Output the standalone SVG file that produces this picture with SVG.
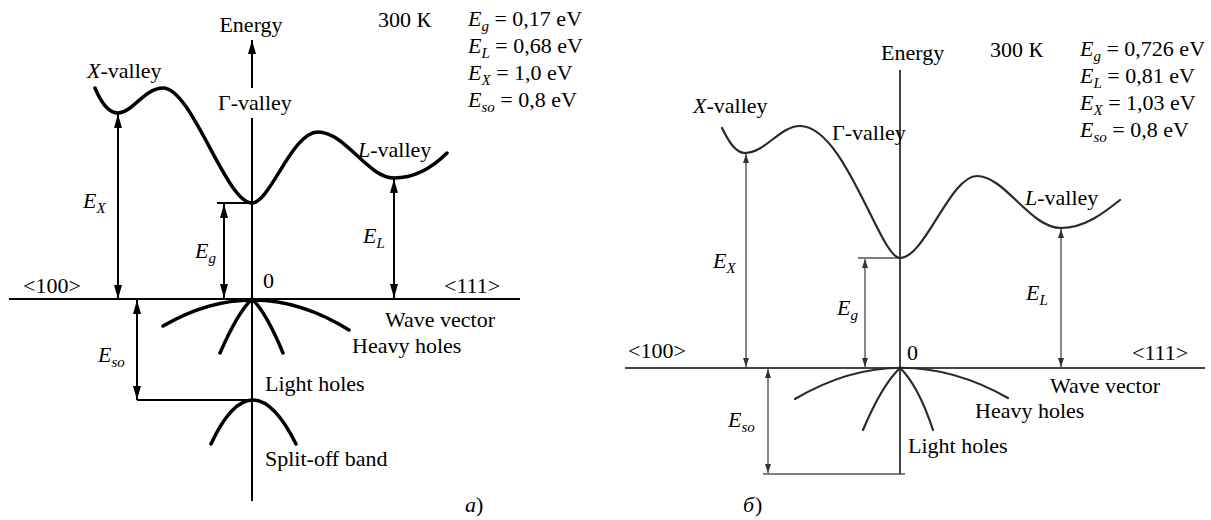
<svg xmlns="http://www.w3.org/2000/svg" width="1211" height="520" viewBox="0 0 1211 520">
<style>
text{font-family:"Liberation Serif","Times New Roman",serif;font-size:22px;fill:#000}
.i{font-style:italic}
.s{font-size:15px;font-style:italic}
.ax{stroke:#000;stroke-width:2;fill:none}
.cv{stroke:#000;stroke-width:3.5;fill:none;stroke-linecap:round}
.ar{stroke:#000;stroke-width:2;fill:none}
.axb{stroke:#444;stroke-width:2;fill:none}
.cvb{stroke:#2a2a2a;stroke-width:2.2;fill:none;stroke-linecap:round}
.arb{stroke:#555;stroke-width:1.4;fill:none}
</style>
<defs>
<marker id="ah" viewBox="0 0 14 8" refX="14" refY="4" markerWidth="14" markerHeight="8" markerUnits="userSpaceOnUse" orient="auto-start-reverse"><path d="M0,0 L14,4 L0,8 z" fill="#000"/></marker>
<marker id="ahb" viewBox="0 0 9 6" refX="9" refY="3" markerWidth="9" markerHeight="6" markerUnits="userSpaceOnUse" orient="auto-start-reverse"><path d="M0,0 L9,3 L0,6 z" fill="#333"/></marker>
</defs>
<rect width="1211" height="520" fill="#fff"/>

<!-- Panel a -->
<g id="panel-a">
<g id="a-connectors">
<line class="ax" x1="252" y1="88" x2="252" y2="40" marker-end="url(#ah)"/>
<line class="ax" x1="252" y1="118" x2="252" y2="501"/>
<line class="ax" x1="9" y1="299" x2="520" y2="299"/>
<line class="ar" x1="217" y1="203" x2="252" y2="203"/>
<line class="ar" x1="137" y1="400" x2="252" y2="400"/>
<line class="ar" x1="118" y1="299" x2="118" y2="114" marker-start="url(#ah)" marker-end="url(#ah)"/>
<line class="ar" x1="224" y1="298" x2="224" y2="204" marker-start="url(#ah)" marker-end="url(#ah)"/>
<line class="ar" x1="394" y1="298" x2="394" y2="179" marker-start="url(#ah)" marker-end="url(#ah)"/>
<line class="ar" x1="137" y1="300" x2="137" y2="400" marker-start="url(#ah)" marker-end="url(#ah)"/>
</g>
<g id="a-bands">
<path class="cv" d="M95,88 C100,100 108,113 118,113 C132,113 145,88 163,88 C192,88 226,203 252,203 C270,203 292,132 318,132 C345,132 368,178 394,178 C415,178 432,168 447,153"/>
<path class="cv" d="M163,326 Q256,272 349,330"/>
<path class="cv" d="M220,353 Q238,312 252,299 Q266,312 283,353"/>
<path class="cv" d="M211,444 Q252,356 296,444"/>
</g>
<g id="a-labels">
<text x="251" y="32" text-anchor="middle">Energy</text>
<text x="87" y="78"><tspan class="i">X</tspan>-valley</text>
<text x="218" y="110">Γ-valley</text>
<text x="358" y="157"><tspan class="i">L</tspan>-valley</text>
<text x="378" y="27">300 К</text>
<text x="468" y="26"><tspan class="i">E</tspan><tspan class="s" dy="5">g</tspan><tspan dy="-5"> = 0,17 eV</tspan></text>
<text x="468" y="53"><tspan class="i">E</tspan><tspan class="s" dy="5">L</tspan><tspan dy="-5"> = 0,68 eV</tspan></text>
<text x="468" y="80"><tspan class="i">E</tspan><tspan class="s" dy="5">X</tspan><tspan dy="-5"> = 1,0 eV</tspan></text>
<text x="468" y="107"><tspan class="i">E</tspan><tspan class="s" dy="5">so</tspan><tspan dy="-5"> = 0,8 eV</tspan></text>
<text x="83" y="208"><tspan class="i">E</tspan><tspan class="s" dy="5">X</tspan></text>
<text x="195" y="258"><tspan class="i">E</tspan><tspan class="s" dy="5">g</tspan></text>
<text x="363" y="243"><tspan class="i">E</tspan><tspan class="s" dy="5">L</tspan></text>
<text x="98" y="362"><tspan class="i">E</tspan><tspan class="s" dy="5">so</tspan></text>
<text x="23" y="293">&lt;100&gt;</text>
<text x="444" y="293">&lt;111&gt;</text>
<text x="263" y="288">0</text>
<text x="385" y="327">Wave vector</text>
<text x="352" y="353">Heavy holes</text>
<text x="265" y="391">Light holes</text>
<text x="265" y="466">Split-off band</text>
<text x="465" y="512" class="i">a</text><text x="476" y="512">)</text>
</g>
</g>

<!-- Panel b -->
<g id="panel-b">
<g id="b-connectors">
<line class="axb" x1="900" y1="70" x2="900" y2="474"/>
<line class="axb" x1="625" y1="368" x2="1205" y2="368"/>
<line class="arb" x1="858" y1="258" x2="900" y2="258"/>
<line class="arb" x1="763" y1="474" x2="905" y2="474"/>
<line class="arb" x1="746" y1="367" x2="746" y2="154" marker-start="url(#ahb)" marker-end="url(#ahb)"/>
<line class="arb" x1="865" y1="367" x2="865" y2="259" marker-start="url(#ahb)" marker-end="url(#ahb)"/>
<line class="arb" x1="1061" y1="367" x2="1061" y2="229" marker-start="url(#ahb)" marker-end="url(#ahb)"/>
<line class="arb" x1="768" y1="369" x2="768" y2="473" marker-start="url(#ahb)" marker-end="url(#ahb)"/>
</g>
<g id="b-bands">
<path class="cvb" d="M722,128 C728,140 735,153 745,153 C765,153 780,126 800,126 C845,126 880,258 900,258 C925,258 950,176 977,176 C1005,176 1030,228 1061,228 C1085,228 1105,212 1120,200"/>
<path class="cvb" d="M795,399 Q900,337 1008,398"/>
<path class="cvb" d="M863,430 Q882,385 900,368 Q918,385 933,430"/>
</g>
<g id="b-labels">
<text x="881" y="60">Energy</text>
<text x="693" y="113"><tspan class="i">X</tspan>-valley</text>
<text x="832" y="140">Γ-valley</text>
<text x="1025" y="205"><tspan class="i">L</tspan>-valley</text>
<text x="990" y="57">300 К</text>
<text x="1080" y="56"><tspan class="i">E</tspan><tspan class="s" dy="5">g</tspan><tspan dy="-5"> = 0,726 eV</tspan></text>
<text x="1080" y="83"><tspan class="i">E</tspan><tspan class="s" dy="5">L</tspan><tspan dy="-5"> = 0,81 eV</tspan></text>
<text x="1080" y="110"><tspan class="i">E</tspan><tspan class="s" dy="5">X</tspan><tspan dy="-5"> = 1,03 eV</tspan></text>
<text x="1080" y="137"><tspan class="i">E</tspan><tspan class="s" dy="5">so</tspan><tspan dy="-5"> = 0,8 eV</tspan></text>
<text x="713" y="268"><tspan class="i">E</tspan><tspan class="s" dy="5">X</tspan></text>
<text x="837" y="315"><tspan class="i">E</tspan><tspan class="s" dy="5">g</tspan></text>
<text x="1026" y="300"><tspan class="i">E</tspan><tspan class="s" dy="5">L</tspan></text>
<text x="728" y="427"><tspan class="i">E</tspan><tspan class="s" dy="5">so</tspan></text>
<text x="628" y="358">&lt;100&gt;</text>
<text x="1132" y="360">&lt;111&gt;</text>
<text x="907" y="360">0</text>
<text x="1050" y="393">Wave vector</text>
<text x="975" y="418">Heavy holes</text>
<text x="908" y="453">Light holes</text>
<text x="743" y="512" class="i">б</text><text x="755" y="512">)</text>
</g>
</g>
</svg>
